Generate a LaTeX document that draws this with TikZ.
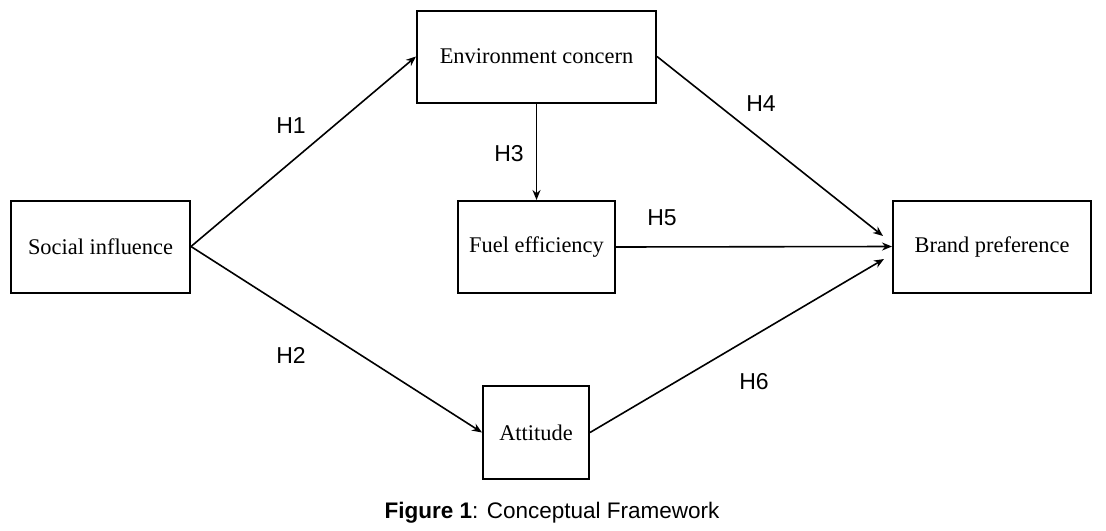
\documentclass[tikz,border=0pt]{standalone}
\usepackage{fontspec}
\setmainfont{Liberation Serif}
\setsansfont{Liberation Sans}
\usetikzlibrary{arrows.meta}
\begin{document}
\begin{tikzpicture}[x=0.5pt,y=-0.5pt,
  box/.style={draw,line width=1pt,minimum width=#1,inner sep=0pt,minimum height=46pt,font=\fontsize{11.2}{13}\selectfont},
  conn/.style={line width=0.8pt,-{Stealth[length=5pt,width=4pt]}},
  hlab/.style={font=\sffamily\fontsize{11.5}{13}\selectfont}]
\useasboundingbox (0,0) rectangle (1106,530);
\node[box=89.5pt] (si) at (100.5,246.5) {Social influence};
\node[box=119.5pt] (env) at (536.5,56.5) {Environment concern};
\node[box=78.5pt] (fuel) at (536.5,247) {Fuel efficiency};
\node[box=99pt] (bp) at (992,246.5) {Brand preference};
\node[box=53pt,minimum height=46.5pt] (att) at (536,432.5) {Attitude};
\coordinate (b1) at (883,236);
\coordinate (b3) at (884,259);
\draw[conn] (si.east) -- (env.west);
\draw[conn] (si.east) -- (att.west);
\draw[conn] (env.south) -- (fuel.north);
\draw[conn] (env.east) -- (b1);
\draw[conn] (fuel.east) -- (bp.west);
\draw[conn] (att.east) -- (b3);
\node[hlab] (h1) at (291,126) {H1};
\node[hlab] (h2) at (291,355) {H2};
\node[hlab] (h3) at (509,154) {H3};
\node[hlab] (h4) at (761,104) {H4};
\node[hlab] (h5) at (662,218) {H5};
\node[hlab] (h6) at (754,382) {H6};
\node[font=\sffamily\fontsize{11.25}{13}\selectfont] (cap) at (552,513) {\textbf{Figure 1}: Conceptual Framework};
\end{tikzpicture}
\end{document}
